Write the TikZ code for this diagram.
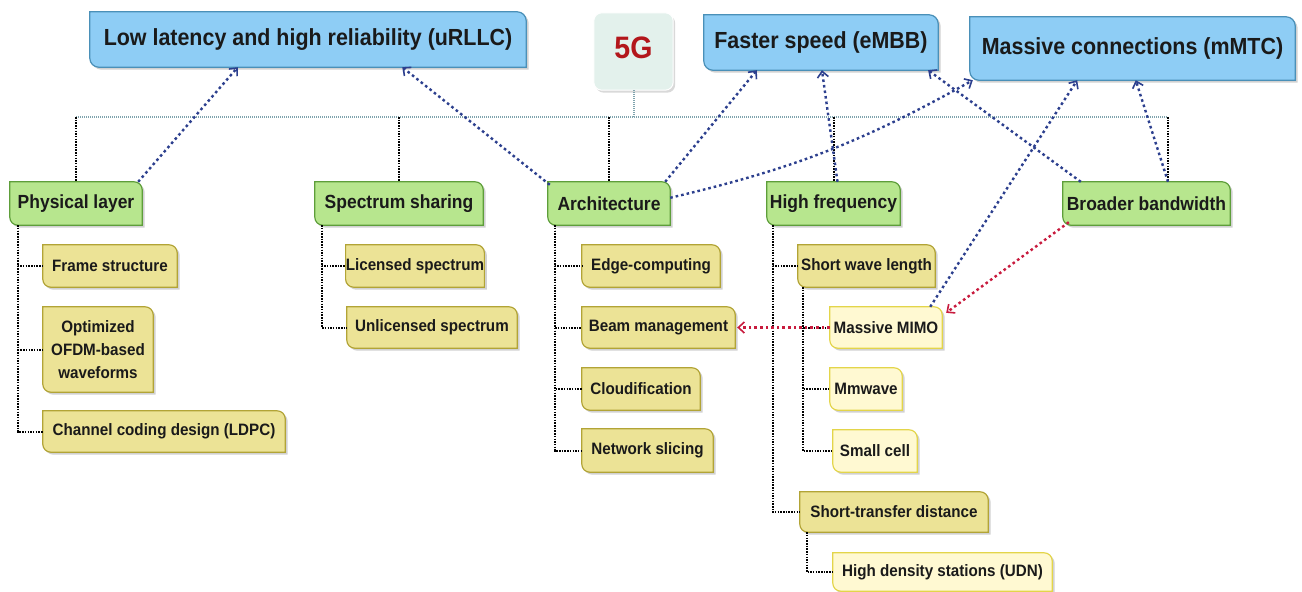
\documentclass[tikz,border=0pt]{standalone}
\usepackage{fontspec}
\setmainfont{Liberation Sans Bold}[FakeStretch=0.92]
\newfontfamily\fivegfont{Liberation Sans Bold}[FakeStretch=0.92]
\usetikzlibrary{arrows.meta,calc}
\pgfdeclarelayer{bg}
\pgfsetlayers{bg,main}
\definecolor{bluefill}{HTML}{8ECDF5}
\definecolor{blueline}{HTML}{4A90B8}
\definecolor{greenfill}{HTML}{B7E68E}
\definecolor{greenline}{HTML}{5E9E3A}
\definecolor{yelfill}{HTML}{ECE396}
\definecolor{yelline}{HTML}{B2A436}
\definecolor{ltfill}{HTML}{FFF9D2}
\definecolor{ltline}{HTML}{E3D54A}
\definecolor{mint}{HTML}{E3F1EC}
\definecolor{arrowblue}{HTML}{2C3F8E}
\definecolor{arrowred}{HTML}{C81B3E}
\definecolor{hubline}{HTML}{7FA3AD}
\definecolor{fivegred}{HTML}{B3161B}
\definecolor{txt}{HTML}{1A1A1A}
\tikzset{
  bluetxt/.style={font=\fontsize{23.3}{26}\selectfont, text=txt, inner sep=0pt, align=center},
  greentxt/.style={font=\fontsize{19}{22}\selectfont, text=txt, inner sep=0pt, align=center},
  yeltxt/.style={font=\fontsize{16.5}{23}\selectfont, text=txt, inner sep=0pt, align=center},
  lttxt/.style={yeltxt},
  bluebox/.style={fill=bluefill, draw=blueline, line width=1.2pt},
  greenbox/.style={fill=greenfill, draw=greenline, line width=1.2pt},
  yelbox/.style={fill=yelfill, draw=yelline, line width=1.2pt},
  ltbox/.style={fill=ltfill, draw=ltline, line width=1.2pt},
  shadowbox/.style={fill=black, opacity=0.18, transform canvas={xshift=2.5pt,yshift=-2.5pt}},
  fiveg/.style={font=\fivegfont\fontsize{31}{34}\selectfont, text=fivegred, inner sep=0pt,
    minimum width=79, minimum height=77},
  barrow/.style={draw=arrowblue, line width=2.4pt, dash pattern=on 2.6pt off 3pt,
    -{Straight Barb[length=6pt,width=11pt,line width=1.6pt]}},
  rarrow/.style={draw=arrowred, line width=2.4pt, dash pattern=on 2.6pt off 3pt,
    -{Straight Barb[length=6pt,width=11pt,line width=1.6pt]}},
  treeline/.style={draw=black, line width=2pt, dash pattern=on 1.5pt off 1.2pt},
  hubl/.style={draw=hubline, line width=2pt, dash pattern=on 1pt off 1pt},
}
\newcommand\drawframe[3]{%
  \begin{pgfonlayer}{bg}
  \fill[shadowbox] (#1.north west) -- ([xshift=-#3]#1.north east) arc[start angle=90,end angle=0,radius=#3]
     -- (#1.south east) -- ([xshift=#3]#1.south west) arc[start angle=270,end angle=180,radius=#3] -- cycle;
  \path[#2] (#1.north west) -- ([xshift=-#3]#1.north east) arc[start angle=90,end angle=0,radius=#3]
     -- (#1.south east) -- ([xshift=#3]#1.south west) arc[start angle=270,end angle=180,radius=#3] -- cycle;
  \end{pgfonlayer}}
\newcommand\bx[8]{%
  \node[#2txt, minimum width={#5-#3}, minimum height={#6-#4}] (#1) at ({(#3+#5)/2},{(#4+#6)/2}) {#8};
  \drawframe{#1}{#2box}{#7}}
\begin{document}
\begin{tikzpicture}[x=1pt,y=-1pt]
\useasboundingbox (0,0) rectangle (1302,592);
\begin{pgfonlayer}{bg}
\fill[white] (0,0) rectangle (1302,592);
\end{pgfonlayer}
% top level
\bx{urllc}{blue}{90}{12}{526}{67}{9pt}{Low latency and high reliability (uRLLC)}
\bx{embb}{blue}{704}{15}{938}{70}{9pt}{Faster speed (eMBB)}
\bx{mmtc}{blue}{970}{17}{1295}{80}{9pt}{Massive connections (mMTC)}
\node[fiveg] (g5) at (633.5,51.5) {\raisebox{8pt}{5G}};
\begin{pgfonlayer}{bg}
\fill[black, opacity=0.15, rounded corners=8pt, transform canvas={xshift=2pt,yshift=-2.5pt}] (g5.north west) rectangle (g5.south east);
\draw[fill=mint, draw=white, line width=1pt, rounded corners=8pt] (g5.north west) rectangle (g5.south east);
\end{pgfonlayer}
% second level
\bx{phys}{green}{10}{182}{142}{225}{8pt}{Physical layer}
\bx{spec}{green}{315}{182}{483}{225}{8pt}{Spectrum sharing}
\bx{arch}{green}{548}{182}{670}{225}{8pt}{Architecture}
\bx{hf}{green}{767}{182}{900}{225}{8pt}{High frequency}
\bx{bb}{green}{1063}{182}{1230}{225}{8pt}{Broader bandwidth}
% third level
\bx{frame}{yel}{43}{245}{177}{287}{8pt}{Frame structure}
\bx{ofdm}{yel}{43}{307}{153}{392}{8pt}{Optimized\\OFDM-based\\waveforms}
\bx{ldpc}{yel}{43}{411}{285}{452}{8pt}{Channel coding design (LDPC)}
\bx{lic}{yel}{347}{245}{483}{287}{8pt}{Licensed spectrum}
\bx{unlic}{yel}{347}{307}{517}{348}{8pt}{Unlicensed spectrum}
\bx{edge}{yel}{582}{245}{720}{287}{8pt}{Edge-computing}
\bx{beam}{yel}{582}{307}{735}{348}{8pt}{Beam management}
\bx{cloud}{yel}{582}{368}{700}{410}{8pt}{Cloudification}
\bx{slice}{yel}{582}{429}{713}{472}{8pt}{Network slicing}
\bx{swl}{yel}{798}{245}{935}{287}{8pt}{Short wave length}
\bx{mimo}{lt}{830}{307}{942}{348}{8pt}{Massive MIMO}
\bx{mmw}{lt}{830}{368}{902}{410}{8pt}{Mmwave}
\bx{small}{lt}{833}{430}{917}{472}{8pt}{Small cell}
\bx{std}{yel}{800}{492}{988}{532}{8pt}{Short-transfer distance}
\bx{udn}{lt}{833}{553}{1052}{591}{8pt}{High density stations (UDN)}
% hub
\coordinate (hub) at (g5.south |- 0,117);
\coordinate (bbtop) at ([xshift=21.5pt]bb.north);
\draw[hubl] (g5.south) -- (hub);
\draw[hubl] (phys.north |- hub) -- (bbtop |- hub);
\foreach \n in {phys,spec,arch,hf} \draw[treeline] (\n.north |- hub) -- (\n.north);
\draw[treeline] (bbtop |- hub) -- (bbtop);
% tree branches
\foreach \c in {frame,ofdm,ldpc} \draw[treeline] ([xshift=8pt]phys.south west) |- (\c.west);
\foreach \c in {lic,unlic} \draw[treeline] ([xshift=7pt]spec.south west) |- (\c.west);
\foreach \c in {edge,beam,cloud,slice} \draw[treeline] ([xshift=7pt]arch.south west) |- (\c.west);
\foreach \c in {swl,std} \draw[treeline] ([xshift=6pt]hf.south west) |- (\c.west);
\foreach \c in {mimo,mmw,small} \draw[treeline] ([xshift=5pt]swl.south west) |- (\c.west);
\draw[treeline] ([xshift=7pt]std.south west) |- (udn.west);
% blue arrows
\draw[barrow] ([xshift=-4pt]phys.north east) -- ($(urllc.south west)!0.339!(urllc.south east)$);
\draw[barrow] ([xshift=2pt,yshift=-3pt]arch.north west) -- ($(urllc.south west)!0.716!(urllc.south east)$);
\draw[barrow] ([xshift=-5pt]arch.north east) -- ($(embb.south west)!0.226!(embb.south east)$);
\draw[barrow] ([yshift=-16pt]arch.north east) to[bend right=8] ([xshift=3pt]mmtc.south west);
\draw[barrow] ([xshift=4pt]hf.north) -- ($(embb.south west)!0.504!(embb.south east)$);
\draw[barrow] ([xshift=18pt]bb.north west) -- ($(embb.south west)!0.957!(embb.south east)$);
\draw[barrow] ([xshift=-12pt]mimo.north east) -- ($(mmtc.south west)!0.33!(mmtc.south east)$);
\draw[barrow] (bbtop) -- ($(mmtc.south west)!0.51!(mmtc.south east)$);
% red arrows
\draw[rarrow] ([xshift=6pt,yshift=3pt]bb.south west) -- ([xshift=4pt,yshift=-6pt]mimo.north east);
\draw[rarrow] (mimo.west) -- ([xshift=2pt]beam.east);
\end{tikzpicture}
\end{document}
